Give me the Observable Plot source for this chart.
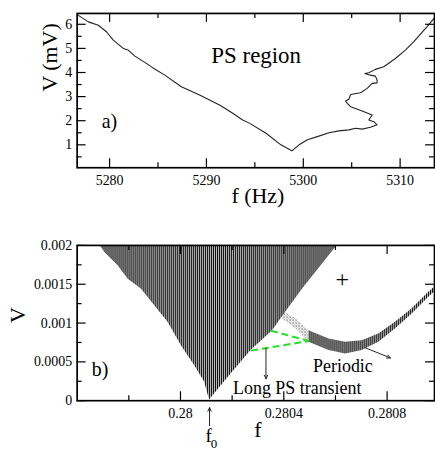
<!DOCTYPE html>
<html><head><meta charset="utf-8">
<script src="https://cdn.jsdelivr.net/npm/d3@7"></script>
<script src="https://cdn.jsdelivr.net/npm/@observablehq/plot@0.6"></script>
<style>
html,body{margin:0;padding:0;background:#fff;overflow:hidden;width:435px;height:451px}
#chart svg{display:block}
#chart svg, #chart svg text{font-family:"Liberation Serif","Times New Roman",serif !important}
</style></head><body>
<svg width="0" height="0" style="position:absolute">
<defs>
<pattern id="stripes" patternUnits="userSpaceOnUse" width="2" height="4"><rect x="0" y="0" width="1.3" height="4" fill="#111"/></pattern>
<pattern id="stipple" patternUnits="userSpaceOnUse" width="3" height="3"><rect x="0" y="0" width="1" height="1" fill="#222"/><rect x="1.5" y="1.5" width="1" height="1" fill="#555"/></pattern>
</defs></svg>
<div id="chart"></div>
<script>
// ---------- Panel a) data ----------
const topF = [5276.66, 5276.78, 5277.81, 5278.84, 5279.70, 5280.38, 5281.41, 5281.92, 5282.61, 5283.64, 5284.49, 5285.70, 5287.41, 5289.29, 5291.35, 5292.72, 5293.74, 5294.43, 5296.15, 5297.69, 5298.82, 5299.57, 5300.43, 5301.45, 5302.66, 5303.68, 5304.71, 5305.40, 5306.08, 5306.94, 5307.62, 5307.28, 5306.77, 5307.11, 5306.08, 5304.89, 5304.54, 5304.37, 5304.71, 5304.89, 5305.92, 5306.60, 5307.11, 5307.62, 5307.62, 5307.45, 5306.94, 5306.36, 5306.77, 5307.45, 5308.31, 5309.51, 5310.54, 5311.39, 5312.76, 5313.55];
const topV = [6.42, 6.37, 6.10, 5.96, 5.68, 5.34, 5.00, 4.93, 4.68, 4.42, 4.19, 3.89, 3.41, 3.07, 2.65, 2.31, 2.03, 1.90, 1.48, 1.00, 0.75, 1.00, 1.21, 1.34, 1.50, 1.58, 1.62, 1.69, 1.65, 1.73, 1.83, 1.96, 2.03, 2.24, 2.40, 2.58, 2.72, 2.82, 2.89, 3.09, 3.16, 3.34, 3.55, 3.57, 3.69, 3.85, 3.89, 3.96, 3.99, 4.13, 4.24, 4.58, 4.93, 5.27, 5.89, 6.27];
const topXDomain = [5276.65, 5313.55];
const topYDomain = [0.05, 6.45];
const topXTicks = [5280, 5290, 5300, 5310];
const topXTickLabels = ["5280", "5290", "5300", "5310"];
const topXMinor = [5285, 5295, 5305];
const topYTicks = [1, 2, 3, 4, 5, 6];
const topYTickLabels = ["1", "2", "3", "4", "5", "6"];
const topYMinor = [0.5, 1.5, 2.5, 3.5, 4.5, 5.5];
const topLabels = [
  {f: 5290.51, v: 4.39, text: "PS region", size: 23},
  {f: 5279.19, v: 1.70, text: "a)", size: 20}
];

// ---------- Panel b) data ----------
const botXDomain = [0.2796, 0.2809834];
const botYDomain = [0, 0.002];
// V-shaped (Arnold tongue) region: lower boundary, filled up to the top
const tongueF = [0.2796886, 0.2797079, 0.2797592, 0.2797977, 0.2798493, 0.2799006, 0.2799518, 0.2800035, 0.2800547, 0.2800933, 0.2801125, 0.2801934, 0.2802732, 0.2803565, 0.2804015, 0.2804721, 0.2806069];
const tongueLow = [0.002, 0.001906, 0.001735, 0.001564, 0.001436, 0.001222, 0.001009, 0.000709, 0.000453, 0.00024, 0.00001, 0.000333, 0.000645, 0.000901, 0.001115, 0.001436, 0.002];
const tongueTop = 0.002;
// periodic branch
const bandF = [0.2804979, 0.2805750, 0.2806393, 0.2807033, 0.2807676, 0.2808320, 0.2808960, 0.2809603, 0.2809834];
const bandLow = [0.000752, 0.000645, 0.000603, 0.000645, 0.000753, 0.000923, 0.001115, 0.00133, 0.00140];
const bandHigh = [0.000901, 0.000795, 0.000753, 0.000773, 0.000859, 0.001009, 0.00118, 0.001394, 0.00146];
// sparse transition region
const transF = [0.2803950, 0.2804478, 0.2804979];
const transLow = [0.001051, 0.000923, 0.000752];
const transHigh = [0.001154, 0.001051, 0.000901];
// green dashed lines
const greenLines = [
  {f1: 0.2803503, v1: 0.000901, f2: 0.2804979, v2: 0.000769},
  {f1: 0.2802732, v1: 0.000645, f2: 0.2804979, v2: 0.000769}
];
// arrows
const arrows = [
  {f1: 0.280331, v1: 0.000676, f2: 0.280331, v2: 0.000282},
  {f1: 0.2807164, v1: 0.00068, f2: 0.2808127, v2: 0.000551},
  {f1: 0.2801125, v1: -0.000321, f2: 0.2801125, v2: -0.00009}
];
const botLabels = [
  {f: 0.280452, v: 0.00009, text: "Long PS transient", size: 18, anchor: "middle"},
  {f: 0.280629, v: 0.000372, text: "Periodic", size: 18, anchor: "start"},
  {f: 0.2796886, v: 0.000324, text: "b)", size: 20, anchor: "start"},
  {f: 0.2801087, v: -0.000526, text: "f", size: 19, anchor: "middle"},
  {f: 0.2801300, v: -0.000615, text: "0", size: 13, anchor: "start"}
];
const plusMark = [{f: 0.2806262, v: 0.001564}];
const botXTicks = [0.28, 0.2804, 0.2808];
const botXTickLabels = ["0.28", "0.2804", "0.2808"];
const botXMinor = [0.2798, 0.2802, 0.2806];
const botYTicks = [0, 0.0005, 0.001, 0.0015, 0.002];
const botYTickLabels = ["0", "0.0005", "0.001", "0.0015", "0.002"];
const botYMinor = [0.00025, 0.00075, 0.00125, 0.00175];

// ---------- helpers ----------
const FONT = "Liberation Serif";
function frameTicks(xMaj, xMin, yMaj, yMin, fw, fh) {
  const M = 9, m = 5, s = {stroke: "#000", strokeWidth: 1.2};
  return [
    Plot.ruleX(xMaj, {...s, insetTop: fh - M}),
    Plot.ruleX(xMaj, {...s, insetBottom: fh - M}),
    Plot.ruleX(xMin, {...s, insetTop: fh - m}),
    Plot.ruleX(xMin, {...s, insetBottom: fh - m}),
    Plot.ruleY(yMaj, {...s, insetRight: fw - M}),
    Plot.ruleY(yMaj, {...s, insetLeft: fw - M}),
    Plot.ruleY(yMin, {...s, insetRight: fw - m}),
    Plot.ruleY(yMin, {...s, insetLeft: fw - m})
  ];
}

const W = 437, ML = 77, MR = 1;
const FW = W - ML - MR;

// ---------- Panel a ----------
const topData = topF.map((f, i) => ({f, v: topV[i]}));
const H1 = 228, MT1 = 13, MB1 = 60, FH1 = H1 - MT1 - MB1;
const panelA = Plot.plot({
  width: W, height: H1, marginTop: MT1, marginBottom: MB1, marginLeft: ML, marginRight: MR,
  x: {domain: topXDomain}, y: {domain: topYDomain},
  style: {fontFamily: FONT, fontSize: "14px", color: "#000", background: "transparent", overflow: "visible"},
  marks: [
    Plot.line(topData, {x: "f", y: "v", stroke: "#222", strokeWidth: 1.1}),
    ...frameTicks(topXTicks, topXMinor, topYTicks, topYMinor, FW, FH1),
    Plot.axisX(topXTicks, {anchor: "bottom", tickSize: 0, tickPadding: 7, fontSize: 14, tickFormat: (d, i) => topXTickLabels[i], label: null}),
    Plot.axisY(topYTicks, {anchor: "left", tickSize: 0, tickPadding: 5, fontSize: 14, tickFormat: (d, i) => topYTickLabels[i], label: null}),
    Plot.text(topLabels, {x: "f", y: "v", text: "text", fontSize: d => d.size, textAnchor: "start", lineAnchor: "bottom", fill: "#000", fontFamily: FONT}),
    Plot.text(["f (Hz)"], {text: d => d, frameAnchor: "bottom", lineAnchor: "bottom", dy: 35, dx: 2, fontSize: 22, fontFamily: FONT}),
    Plot.text(["V (mV)"], {text: d => d, frameAnchor: "left", rotate: -90, dx: -27, dy: 1, fontSize: 22, fontFamily: FONT}),
    Plot.frame({stroke: "#000", strokeWidth: 1.7})
  ]
});

// ---------- Panel b ----------
const tongueData = tongueF.map((f, i) => ({f, lo: tongueLow[i], hi: tongueTop}));
const bandData = bandF.map((f, i) => ({f, lo: bandLow[i], hi: bandHigh[i]}));
const transData = transF.map((f, i) => ({f, lo: transLow[i], hi: transHigh[i]}));
const H2 = 223, MT2 = 18, MB2 = 49, FH2 = H2 - MT2 - MB2;
const panelB = Plot.plot({
  width: W, height: H2, marginTop: MT2, marginBottom: MB2, marginLeft: ML, marginRight: MR,
  x: {domain: botXDomain}, y: {domain: botYDomain},
  style: {fontFamily: FONT, fontSize: "14px", color: "#000", background: "transparent", overflow: "visible"},
  marks: [
    Plot.areaY(tongueData, {x: "f", y1: "lo", y2: "hi", fill: "url(#stripes)"}),
    Plot.areaY(transData, {x: "f", y1: "lo", y2: "hi", fill: "url(#stipple)"}),
    Plot.areaY(bandData, {x: "f", y1: "lo", y2: "hi", fill: "url(#stripes)"}),
    Plot.link(greenLines, {x1: "f1", y1: "v1", x2: "f2", y2: "v2", stroke: "#22e022", strokeWidth: 2, strokeDasharray: "7,4"}),
    Plot.arrow(arrows, {x1: "f1", y1: "v1", x2: "f2", y2: "v2", stroke: "#222", strokeWidth: 1, headLength: 6, headAngle: 50}),
    Plot.text(plusMark, {x: "f", y: "v", text: () => "+", fontSize: 24, fill: "#000", fontFamily: FONT}),
    Plot.text(botLabels, {x: "f", y: "v", text: "text", fontSize: d => d.size, textAnchor: d => d.anchor, lineAnchor: "bottom", fill: "#000", fontFamily: FONT}),
    ...frameTicks(botXTicks, botXMinor, botYTicks, botYMinor, FW, FH2),
    Plot.axisX(botXTicks, {anchor: "bottom", tickSize: 0, tickPadding: 7, fontSize: 14, tickFormat: (d, i) => botXTickLabels[i], label: null}),
    Plot.axisY(botYTicks, {anchor: "left", tickSize: 0, tickPadding: 5, fontSize: 14, tickFormat: (d, i) => botYTickLabels[i], label: null}),
    Plot.text(["f"], {text: d => d, frameAnchor: "bottom", lineAnchor: "bottom", dy: 36, dx: 2, fontSize: 22, fontFamily: FONT}),
    Plot.text(["V"], {text: d => d, frameAnchor: "left", rotate: -90, dx: -59, fontSize: 22, fontFamily: FONT}),
    Plot.frame({stroke: "#000", strokeWidth: 1.7})
  ]
});

const chart = document.getElementById("chart");
chart.appendChild(panelA);
chart.appendChild(panelB);
</script></body></html>
